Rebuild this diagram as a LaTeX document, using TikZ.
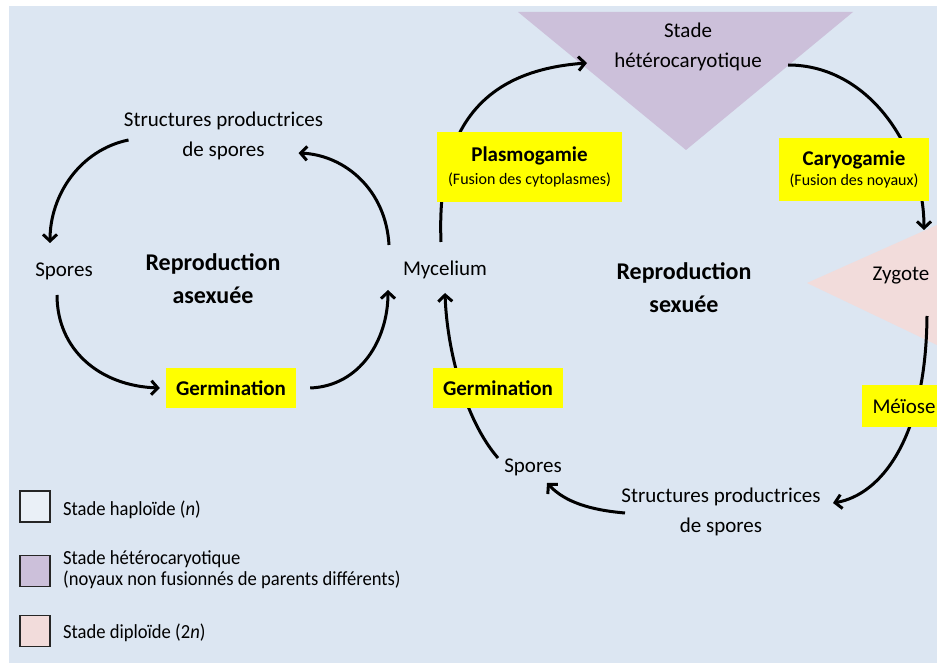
\documentclass[tikz,border=0pt]{standalone}
\usepackage{fontspec}
\setmainfont{Carlito}
\newfontfamily\condfont[FakeStretch=0.93]{Carlito}
\usetikzlibrary{arrows.meta}
\definecolor{bgc}{HTML}{DCE6F2}
\definecolor{hetc}{HTML}{CCC0DA}
\definecolor{dipc}{HTML}{F2DCDB}
\definecolor{ylw}{HTML}{FFFF00}
\tikzset{
  txt/.style={inner sep=0pt, align=center, font=\fontsize{21}{30}\selectfont},
  bigtxt/.style={inner sep=0pt, align=center, font=\fontsize{24}{33}\selectfont\bfseries},
  ybox/.style={fill=ylw, inner sep=0pt, align=center},
  cyc/.style={line width=3pt, -{Straight Barb[length=6.5pt,width=14pt,line width=3pt]}},
  legbox/.style={draw=black!85, line width=1.3pt, minimum width=30pt, minimum height=31pt, inner sep=0pt},
  legtxt/.style={inner sep=0pt, anchor=west, align=left, font=\condfont\fontsize{20}{21}\selectfont}
}
\begin{document}
\begin{tikzpicture}[x=1pt,y=-1pt]
\useasboundingbox (0,0) rectangle (937,668);
\fill[bgc] (9,6) rectangle (937,663);
% stage shapes
\fill[hetc] (518,12) -- (853,12) -- (686,150) -- cycle;
\fill[dipc] (807,283) -- (937,225) -- (937,345) -- cycle;

% ---------- asexual cycle ----------
\node[txt] (structL) at (223.5,136) {Structures productrices\\de spores};
\node[txt] (spL) at (64,271) {Spores};
\node[bigtxt] (reproA) at (213,279) {Reproduction\\asexuée};
\node[ybox, minimum width=130pt, minimum height=40pt, font=\fontsize{21}{25}\selectfont\bfseries] (germL) at (231,388) {Germination};
\node[txt] (myc) at (445,270) {Mycelium};

\draw[cyc] ([shift={(-95,4)}]structL.center) .. controls (80,150) and (50,195) .. ([shift={(-14,-28)}]spL.center);
\draw[cyc] ([shift={(-7,24)}]spL.center) .. controls (57,350) and (100,386) .. ([shift={(-6,0)}]germL.west);
\draw[cyc] ([shift={(14,0)}]germL.east) .. controls (360,386) and (388,340) .. ([shift={(-57,20)}]myc.center);
\draw[cyc] ([shift={(-56,-25)}]myc.center) .. controls (386,190) and (345,155) .. ([shift={(75,17)}]structL.center);

% ---------- sexual cycle ----------
\node[txt] (stade) at (688,47) {Stade\\hétérocaryotique};
\node[txt] (zyg) at (901,276) {Zygote};
\node[bigtxt] (reproS) at (684,288) {Reproduction\\sexuée};
\node[txt] (spR) at (533,467) {Spores};
\node[txt] (structR) at (721,512) {Structures productrices\\de spores};

\draw[cyc] ([shift={(-4,-28)}]myc.center) .. controls (436,120) and (490,70) .. ([shift={(-101,16)}]stade.center);
\draw[cyc] ([shift={(100,18)}]stade.center) .. controls (870,65) and (924,150) .. ([shift={(23,-46)}]zyg.center);
\draw[cyc] ([shift={(26,40)}]zyg.center) .. controls (926,440) and (880,495) .. ([shift={(112,-9)}]structR.center);
\draw[cyc] ([shift={(-96,1)}]structR.center) .. controls (590,510) and (565,502) .. ([shift={(14,16)}]spR.center);
\draw[cyc] ([shift={(-35,-9)}]spR.center) .. controls (465,420) and (447,350) .. ([shift={(0,23)}]myc.center);

\node[ybox, minimum width=185pt, minimum height=70pt] (plasmo) at (529.5,167)
  {{\fontsize{21}{25}\selectfont\bfseries Plasmogamie}\\[7pt]{\fontsize{16}{18}\selectfont (Fusion des cytoplasmes)}};
\node[ybox, minimum width=150pt, minimum height=63pt] (caryo) at (854,169.5)
  {{\fontsize{21}{25}\selectfont\bfseries Caryogamie}\\[3pt]{\fontsize{16}{18}\selectfont (Fusion des noyaux)}};
\node[ybox, minimum width=130pt, minimum height=40pt, font=\fontsize{21}{25}\selectfont\bfseries] (germR) at (498,388) {Germination};
\node[ybox, minimum width=84pt, minimum height=42pt, font=\fontsize{21}{25}\selectfont] (meiose) at (904,406) {Méïose};

% ---------- legend ----------
\node[legbox, fill=bgc!60!white] (b1) at (35,506.5) {};
\node[legbox, fill=hetc] (b2) at (35,571) {};
\node[legbox, fill=dipc] (b3) at (35,631) {};
\node[legtxt] (l1) at (63,510) {Stade haploïde (\textit{n})};
\node[legtxt, align=left] (l2) at (63,570) {Stade hétérocaryotique\\(noyaux non fusionnés de parents différents)};
\node[legtxt] (l3) at (63,633) {Stade diploïde (2\textit{n})};
\end{tikzpicture}
\end{document}
